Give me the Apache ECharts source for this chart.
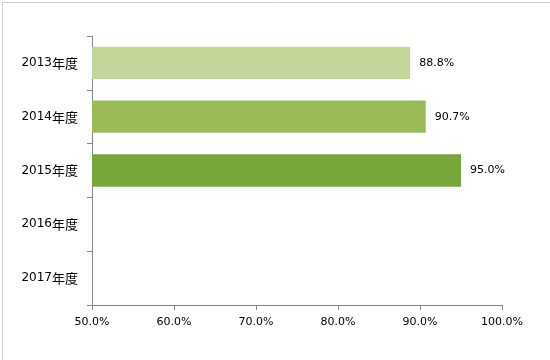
<!DOCTYPE html>
<html>
<head>
<meta charset="utf-8">
<script src="https://cdn.jsdelivr.net/npm/echarts@6/dist/echarts.min.js"></script>
<style>html,body{margin:0;padding:0;background:#fff;}#c{width:550px;height:360px;}</style>
</head>
<body>
<div id="c"></div>
<script>
var categories = ['2013年度', '2014年度', '2015年度', '2016年度', '2017年度'];
var values = [88.8, 90.7, 95.0, null, null];
var barColors = ['#C4D79B', '#9BBB59', '#77A63A', '#77A63A', '#77A63A'];
var xTicks = [50, 60, 70, 80, 90, 100];

var chart = echarts.init(document.getElementById('c'), null, {renderer: 'canvas'});
var font = '"DejaVu Sans", "Noto Sans CJK SC", sans-serif';
chart.setOption({
  animation: false,
  graphic: [{
    type: 'rect', left: 0, top: 0, silent: true,
    shape: {x: 0.5, y: 0.5, width: 549, height: 359},
    style: {fill: 'none', stroke: '#CFCFCF', lineWidth: 1}
  }],
  grid: {left: 92, right: 48, top: 36, bottom: 55, containLabel: false},
  xAxis: {
    type: 'value', min: xTicks[0], max: xTicks[xTicks.length - 1], interval: 10,
    axisLine: {show: true, lineStyle: {color: '#868686', width: 1}},
    axisTick: {show: true, length: 5, lineStyle: {color: '#868686'}},
    splitLine: {show: false},
    axisLabel: {color: '#000', fontSize: 11, fontFamily: font, margin: 12,
      formatter: function (v) { return v.toFixed(1) + '%'; }}
  },
  yAxis: {
    type: 'category', data: categories, inverse: true,
    axisLine: {show: true, lineStyle: {color: '#868686', width: 1}},
    axisTick: {show: true, length: 5, lineStyle: {color: '#868686'}},
    axisLabel: {color: '#000', fontFamily: font, margin: 14,
      formatter: function (v) {
        var m = v.match(/^(\d+)(.*)$/);
        return '{a|' + m[1] + '}{b|' + m[2] + '}';
      },
      rich: {
        a: {fontSize: 12, fontFamily: font, color: '#000'},
        b: {fontSize: 13, fontFamily: '"Noto Sans CJK SC", sans-serif', color: '#000'}
      }
    }
  },
  series: [{
    type: 'bar',
    barCategoryGap: '40%',
    data: values.map(function (v, i) { return {value: v, itemStyle: {color: barColors[i]}}; }),
    label: {show: true, position: 'right', distance: 9, color: '#000', fontSize: 11, fontFamily: font,
      formatter: function (p) { return p.value == null ? '' : Number(p.value).toFixed(1) + '%'; }}
  }]
});
</script>
</body>
</html>
